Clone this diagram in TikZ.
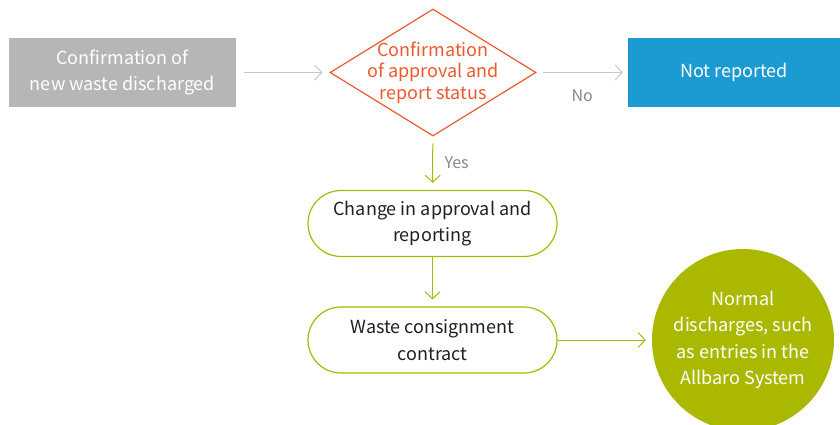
\documentclass[tikz,border=0pt]{standalone}
\usepackage{fontspec}
\setmainfont{Noto Sans CJK KR}
\usepackage{tikz}
\usetikzlibrary{shapes,arrows.meta,positioning}
\definecolor{boxgray}{RGB}{181,182,181}
\definecolor{decorange}{RGB}{238,88,45}
\definecolor{repblue}{RGB}{27,155,209}
\definecolor{leafgreen}{RGB}{170,185,0}
\definecolor{arrgray}{RGB}{200,200,200}
\definecolor{labgray}{RGB}{135,135,135}
\definecolor{txtdark}{RGB}{35,31,32}

\begin{document}
\begin{tikzpicture}[x=1pt,y=-1pt]
\tikzset{font={\fontsize{18}{26.5}\selectfont}}
\tikzset{tip/.style={-{Straight Barb[length=7pt,width=15pt]},line width=1pt}}
\tikzset{flat/.style={rectangle,minimum height=69pt,inner sep=0pt,align=center,text=white}}
\tikzset{stepbox/.style={rectangle,rounded corners=33pt,draw=leafgreen,line width=1.2pt,fill=white,minimum width=249pt,minimum height=66pt,align=center,text=txtdark}}
\tikzset{lab/.style={text=labgray,font={\fontsize{16}{19}\selectfont}}}
\useasboundingbox (0,0) rectangle (840,425);

%Boxes
\node[flat,fill=boxgray,minimum width=227pt] (newwaste) at (122.5,72.5) {Confirmation of\\new waste discharged};
\node[diamond,aspect=1.62,draw=decorange,line width=1.2pt,inner sep=-5pt,minimum width=206pt,minimum height=127pt,align=center,text=decorange,font={\fontsize{18}{21.5}\selectfont}] (status) at (433,72.5) {Confirmation\\of approval and\\report status};
\node[flat,fill=repblue,minimum width=212pt] (notrep) at (734,72.5) {Not reported};
\node[stepbox] (change) at (432.5,223.5) {Change in approval and\\reporting};
\node[stepbox] (contract) at (432.5,340) {Waste consignment\\contract};
\node[circle,fill=leafgreen,minimum size=182pt,inner sep=0pt,align=center,text=white] (normal) at (743,340) {Normal\\discharges, such\\as entries in the\\Allbaro System};

%Arrows
\draw[tip,arrgray,shorten <=8pt,shorten >=7pt] (newwaste) -- (status);
\draw[tip,arrgray,shorten <=6pt,shorten >=5pt] (status) -- node[below=13pt,lab] {No} (notrep);
\draw[tip,leafgreen,shorten <=7pt,shorten >=7pt] (status) -- node[right=8pt,lab] {Yes} (change);
\draw[tip,leafgreen,shorten >=7pt] (change) -- (contract);
\draw[tip,leafgreen,shorten >=6pt] (contract) -- (normal);

\end{tikzpicture}
\end{document}
